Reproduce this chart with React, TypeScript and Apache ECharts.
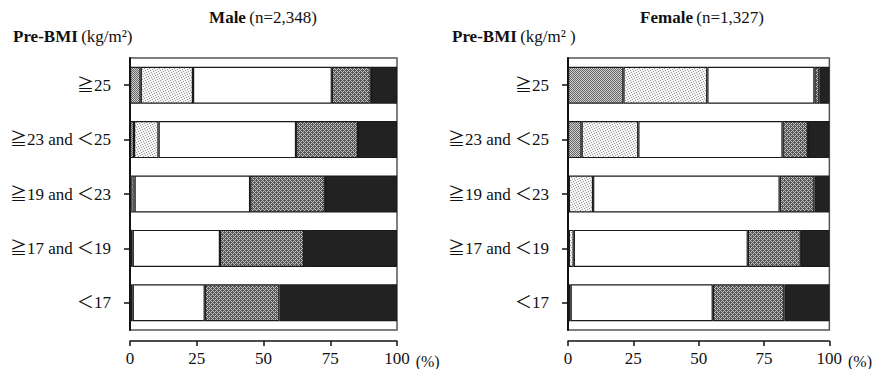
import React, { useEffect, useRef } from "react";
import * as echarts from "echarts";

const categories = ["≧25", "≧23 and ＜25", "≧19 and ＜23", "≧17 and ＜19", "＜17"];
const xTicks = [0, 25, 50, 75, 100];

const maleSeg1 = [4, 1.5, 0.5, 0.3, 0.3];
const maleSeg2 = [19.6, 9.2, 1.2, 0.7, 0.7];
const maleSeg3 = [52, 51.5, 43.3, 32.7, 27];
const maleSeg4 = [14.6, 23.2, 28, 31.5, 28];
const maleSeg5 = [9.8, 14.6, 27, 34.8, 44];

const femaleSeg1 = [21.2, 5.2, 0.3, 0.3, 0.3];
const femaleSeg2 = [32.1, 21.7, 9.3, 1.9, 0.7];
const femaleSeg3 = [41, 55.2, 71.4, 66.6, 54.4];
const femaleSeg4 = [1.9, 9.7, 13.3, 20.3, 27.4];
const femaleSeg5 = [3.8, 8.2, 5.7, 10.9, 17.2];

const FONT = "'Liberation Serif', 'Noto Sans CJK JP', serif";

function makeTile(rows: string[], colors: Record<string, string>) {
  const h = rows.length;
  const w = rows[0].length;
  const c = document.createElement("canvas");
  c.width = w;
  c.height = h;
  const ctx = c.getContext("2d")!;
  for (let y = 0; y < h; y++) {
    for (let x = 0; x < w; x++) {
      ctx.fillStyle = colors[rows[y][x]];
      ctx.fillRect(x, y, 1, 1);
    }
  }
  return { image: c, repeat: "repeat", imageWidth: w, imageHeight: h } as any;
}

export default function App() {
  const ref = useRef<HTMLDivElement>(null);

  useEffect(() => {
    if (!ref.current) return;
    const chart = echarts.init(ref.current, null, { renderer: "svg" });

    const dense = makeTile(
      ["D.D.", ".D.D", "D.D.", ".D.D"],
      { D: "#666666", ".": "#d0d0d0" }
    );
    const light = makeTile(
      ["G....", "...G.", ".G...", "....G", "..G.."],
      { G: "#9a9a9a", ".": "#f4f4f4" }
    );
    const cross = makeTile(
      ["DDLD", "DLDL", "LDDD", "DLDL"],
      { D: "#555555", L: "#c4c4c4" }
    );
    const segStyles = [dense, light, "#ffffff", cross, "#222222"];

    const grids = [
      { left: 130, top: 58, width: 267, height: 272 },
      { left: 568, top: 58, width: 267, height: 272 },
    ];

    const makeGrid = (g: any) => ({
      ...g,
      show: true,
      backgroundColor: "#ffffff",
      borderColor: "#555555",
      borderWidth: 1.5,
    });

    const xAxisFor = (i: number) => ({
      type: "value",
      gridIndex: i,
      min: 0,
      max: 100,
      interval: 25,
      offset: 11,
      axisLine: { show: true, lineStyle: { color: "#111", width: 1.5 } },
      axisTick: { show: true, inside: false, length: 5, lineStyle: { color: "#111", width: 1.5 } },
      axisLabel: {
        margin: 9,
        fontFamily: FONT,
        fontSize: 17,
        color: "#111",
        formatter: (v: number) => (xTicks.includes(v) ? String(v) : ""),
      },
      splitLine: { show: false },
      name: "(%)",
      nameLocation: "end",
      nameGap: 10,
      nameTextStyle: {
        fontFamily: FONT,
        fontSize: 16,
        color: "#111",
        verticalAlign: "top",
        padding: [12, 0, 0, 0],
      },
    });

    const yAxisFor = (i: number) => ({
      type: "category",
      gridIndex: i,
      inverse: true,
      data: categories,
      offset: 7,
      axisLine: { show: true, lineStyle: { color: "#111", width: 2 } },
      axisTick: { show: true, alignWithLabel: true, length: 6, lineStyle: { color: "#111", width: 1.5 } },
      axisLabel: { margin: 12, fontFamily: FONT, fontSize: 17, color: "#111" },
      splitLine: { show: false },
    });

    const maleData = [maleSeg1, maleSeg2, maleSeg3, maleSeg4, maleSeg5];
    const femaleData = [femaleSeg1, femaleSeg2, femaleSeg3, femaleSeg4, femaleSeg5];

    const series: any[] = [];
    [maleData, femaleData].forEach((set, gi) => {
      set.forEach((vals, si) => {
        series.push({
          type: "bar",
          xAxisIndex: gi,
          yAxisIndex: gi,
          stack: "s" + gi,
          barWidth: 37,
          data: vals,
          itemStyle: {
            color: segStyles[si],
            borderColor: "#1a1a1a",
            borderWidth: 1.2,
          },
          silent: true,
        });
      });
    });

    const titleText = (x: number, bold: string, rest: string) => ({
      type: "text",
      x,
      y: 17,
      style: {
        text: `{b|${bold}} {n|${rest}}`,
        textAlign: "center",
        textVerticalAlign: "middle",
        rich: {
          b: { fontFamily: FONT, fontSize: 17, fontWeight: "bold", fill: "#111" },
          n: { fontFamily: FONT, fontSize: 17, fill: "#111" },
        },
      },
    });

    const unitText = (x: number, rest: string) => ({
      type: "text",
      x,
      y: 36,
      style: {
        text: `{b|Pre-BMI} {n|${rest}}`,
        textAlign: "left",
        textVerticalAlign: "middle",
        rich: {
          b: { fontFamily: FONT, fontSize: 17, fontWeight: "bold", fill: "#111" },
          n: { fontFamily: FONT, fontSize: 17, fill: "#111" },
        },
      },
    });

    chart.setOption({
      animation: false,
      backgroundColor: "#ffffff",
      grid: grids.map(makeGrid),
      xAxis: [xAxisFor(0), xAxisFor(1)],
      yAxis: [yAxisFor(0), yAxisFor(1)],
      series,
      graphic: [
        titleText(263, "Male", "(n=2,348)"),
        titleText(702, "Female", "(n=1,327)"),
        unitText(13, "(kg/m²)"),
        unitText(452, "(kg/m² )"),
      ],
    });

    return () => chart.dispose();
  }, []);

  return (
    <div
      ref={ref}
      style={{ position: "absolute", left: 0, top: 0, width: 875, height: 369 }}
    />
  );
}
